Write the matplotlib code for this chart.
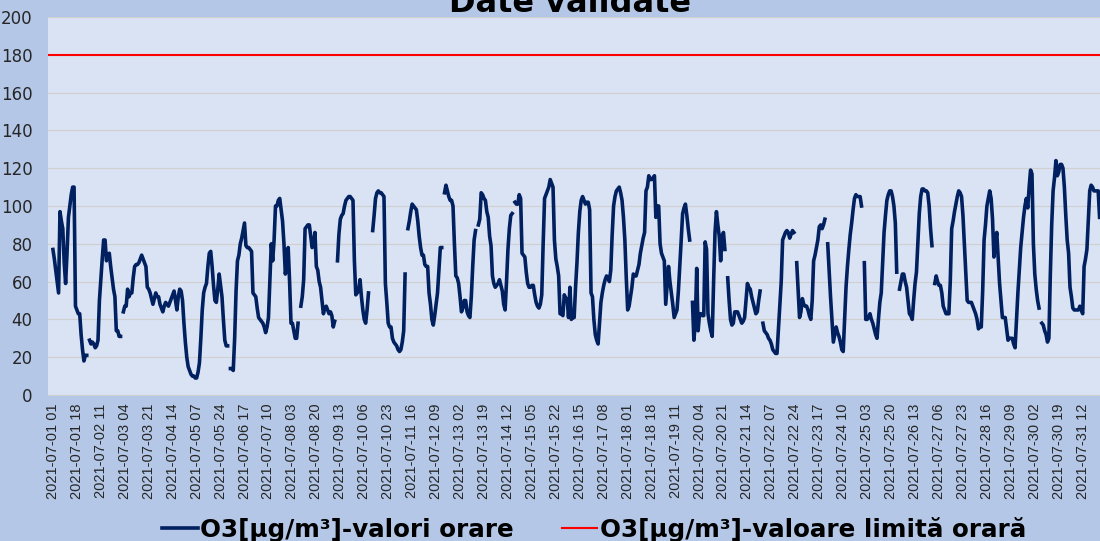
import numpy as np
import matplotlib
matplotlib.use("Agg")
import matplotlib.pyplot as plt

# hourly O3 values, July 2021 (hour 01..24 per day), None = missing
day01 = [77, 72, 66, 60, 54, 97, 92, 88, 70, 59, 75, 94, 100, 106, 110, 110, 47, 45, 43, 43, 32, 24, 18, 21]
day02 = [21, None, 29, 27, 28, 27, 25, 26, 29, 50, 61, 72, 82, 82, 71, 74, 75, 68, 62, 56, 52, 34, 34, 31]
day03 = [31, None, 44, 47, 47, 56, 52, 54, 54, 62, 68, 69, 69, 70, 72, 74, 72, 70, 68, 57, 56, 54, 51, 48]
day04 = [51, 54, 52, 52, 48, 46, 44, 47, 49, 48, 47, 49, 51, 53, 55, 50, 45, 52, 56, 55, 50, 38, 28, 20]
day05 = [15, 13, 11, 10, 10, 9, 9, 12, 17, 30, 45, 54, 57, 59, 68, 75, 76, 68, 58, 50, 49, 56, 64, 58]
day06 = [52, 40, 29, 26, 26, None, 14, 14, 13, 30, 55, 71, 74, 80, 83, 87, 91, 79, 78, 78, 77, 76, 54, 53]
day07 = [52, 46, 41, 40, 39, 38, 36, 33, 36, 41, 60, 80, 71, 82, 100, 100, 103, 104, 98, 92, 80, 64, 70, 78]
day08 = [60, 38, 38, 34, 30, 30, 38, None, 47, 52, 61, 88, 89, 90, 90, 84, 78, 80, 86, 68, 66, 60, 57, 50]
day09 = [43, 46, 47, 45, 43, 44, 42, 36, 39, None, 71, 85, 93, 95, 96, 100, 103, 104, 105, 105, 104, 103, 71, 53]
day10 = [54, 55, 61, 52, 45, 40, 38, 45, 54, None, None, 87, 95, 104, 107, 108, 107, 107, 106, 105, 59, 49, 38, 36]
day11 = [36, 30, 28, 27, 26, 24, 23, 24, 28, 34, 64, None, 88, 92, 97, 101, 100, 99, 98, 92, 84, 78, 74, 74]
day12 = [69, 68, 68, 54, 48, 40, 37, 42, 48, 54, 66, 78, 78, None, 107, 111, 108, 105, 103, 103, 100, 80, 63, 62]
day13 = [59, 52, 44, 46, 50, 50, 44, 42, 41, 52, 68, 82, 87, None, 90, 93, 107, 106, 104, 103, 97, 94, 84, 79]
day14 = [63, 59, 57, 58, 59, 61, 58, 55, 48, 45, 60, 77, 88, 95, 96, None, 102, 101, 101, 106, 104, 75, 74, 73]
day15 = [65, 59, 57, 57, 58, 58, 53, 49, 47, 46, 48, 53, 80, 104, 106, 108, 110, 114, 112, 110, 82, 72, 68, 63]
day16 = [43, 43, 42, 53, 51, 51, 41, 57, 40, 41, 41, 57, 70, 86, 97, 103, 105, 103, 101, 102, 102, 98, 54, 52]
day17 = [40, 32, 29, 27, 38, 49, 54, 58, 61, 63, 62, 60, 66, 85, 100, 105, 108, 109, 110, 107, 103, 94, 82, 62]
day18 = [45, 47, 52, 57, 64, 63, 63, 66, 69, 75, 79, 83, 86, 108, 110, 116, 114, 114, 115, 116, 94, 100, 100, 80]
day19 = [75, 73, 71, 48, 58, 68, 60, 54, 48, 41, 43, 45, 55, 68, 82, 96, 99, 101, 95, 88, 82, None, 49, 29]
day20 = [38, 67, 34, 43, 43, 42, 42, 81, 77, 43, 38, 34, 31, 60, 86, 97, 90, 84, 71, 84, 86, 77, None, 62]
day21 = [50, 40, 37, 38, 44, 44, 44, 42, 40, 38, 39, 41, 50, 59, 57, 56, 52, 49, 46, 43, 44, 50, 55, None]
day22 = [38, 34, 33, 32, 30, 29, 27, 24, 23, 22, 22, 35, 49, 60, 82, 84, 86, 87, 86, 83, 85, 87, 86, None]
day23 = [70, 55, 41, 44, 51, 48, 47, 47, 45, 42, 40, 50, 71, 74, 78, 82, 89, 90, 88, 90, 93, None, 80, 66]
day24 = [52, 40, 28, 32, 36, 33, 31, 28, 24, 23, 40, 57, 68, 77, 85, 91, 98, 104, 106, 105, 105, 105, 100, None]
day25 = [70, 40, 40, 41, 43, 40, 38, 35, 32, 30, 40, 49, 54, 70, 86, 95, 103, 106, 108, 108, 105, 100, 91, 65]
day26 = [None, 56, 60, 64, 64, 60, 57, 50, 43, 42, 40, 50, 59, 65, 80, 96, 105, 109, 109, 108, 108, 107, 100, 88]
day27 = [79, None, 59, 63, 60, 58, 58, 54, 47, 45, 43, 43, 43, 60, 88, 92, 97, 101, 105, 108, 107, 105, 95, 80]
day28 = [65, 50, 49, 49, 49, 47, 45, 43, 40, 35, 36, 36, 55, 82, 90, 100, 104, 108, 104, 93, 73, 80, 86, 72]
day29 = [59, 50, 41, 41, 41, 35, 29, 30, 30, 30, 27, 25, 40, 54, 66, 78, 86, 94, 100, 104, 99, 110, 119, 117]
day30 = [80, 64, 56, 50, 46, None, 38, 37, 34, 32, 28, 30, 63, 90, 108, 115, 124, 116, 118, 122, 122, 120, 110, 95]
day31 = [82, 75, 57, 52, 46, 45, 45, 45, 45, 47, 45, 43, 68, 72, 77, 92, 108, 111, 110, 108, 108, 108, 108, 94]

days = [day01, day02, day03, day04, day05, day06, day07, day08, day09, day10, day11,
        day12, day13, day14, day15, day16, day17, day18, day19, day20, day21, day22,
        day23, day24, day25, day26, day27, day28, day29, day30, day31]

limit_value = 180
series_label = "O3[µg/m³]-valori orare"
limit_label = "O3[µg/m³]-valoare limită orară"
title = "Date validate"

o3 = np.array([np.nan if v is None else v for d in days for v in d], dtype=float)
x = np.arange(len(o3))

# tick labels every 17 hours, hours numbered 01..24
tick_pos = np.arange(0, len(o3), 17)
tick_labels = ["2021-07-%02d %02d" % (i // 24 + 1, i % 24 + 1) for i in tick_pos]

fig = plt.figure(figsize=(11, 5.41), dpi=100, facecolor="#B4C7E7")
ax = fig.add_axes([48 / 1100, 1 - 395 / 541, 1053 / 1100, 378 / 541])
ax.set_facecolor("#DAE3F3")

ax.plot(x, o3, color="#002060", linewidth=2.6, label=series_label, zorder=3)
ax.axhline(limit_value, color="#FF0000", linewidth=1.5, label=limit_label, zorder=2)

ax.set_ylim(0, 200)
ax.set_yticks(np.arange(0, 201, 20))
ax.set_xlim(-3.5, 744)
ax.set_xticks(tick_pos)
ax.set_xticklabels(tick_labels, rotation=90, fontsize=10.5, family="Liberation Sans", color="#262626")
ax.tick_params(axis="y", labelsize=12, length=0, pad=11, colors="#262626")
ax.tick_params(axis="x", length=0, pad=6)
ax.grid(axis="y", color="#D0D0D0", linewidth=0.8)
ax.set_axisbelow(True)
for s in ["top", "right", "left"]:
    ax.spines[s].set_visible(False)
ax.spines["bottom"].set_color("#D0D0D0")

# title is partly above the top edge, as in the original
fig.text(570 / 1100, 1 - 12 / 541, title, ha="center", va="baseline",
         fontsize=23, fontweight="bold", color="#000000")

leg = fig.legend(loc="center", bbox_to_anchor=(594 / 1100, 1 - 529 / 541), ncol=2,
                 frameon=False, handlelength=1.45, columnspacing=1.95, handletextpad=0.1,
                 prop={"weight": "bold", "size": 17.7})

fig.savefig("out.png", dpi=100, facecolor=fig.get_facecolor())
